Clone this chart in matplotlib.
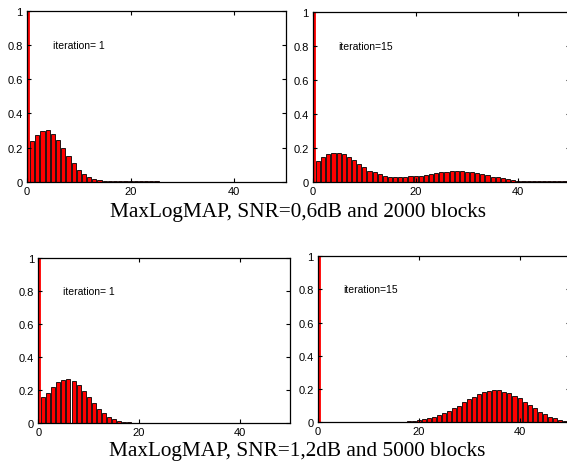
import matplotlib
matplotlib.use('Agg')
import matplotlib.pyplot as plt
import numpy as np

# histogram values, bins 0..50
snr06_it1 = [1.0, 0.237, 0.274, 0.295, 0.301, 0.282, 0.243, 0.198, 0.153, 0.108, 0.072,
             0.045, 0.027, 0.016, 0.010, 0.006, 0.003, 0.002, 0.002, 0.002, 0.002,
             0.002, 0.002, 0.002, 0.002, 0.002]
snr06_it15 = [1.0, 0.124, 0.148, 0.163, 0.171, 0.171, 0.163, 0.148, 0.128, 0.106, 0.085,
              0.065, 0.055, 0.045, 0.037, 0.031, 0.031, 0.031, 0.031, 0.033, 0.035,
              0.037, 0.041, 0.045, 0.051, 0.055, 0.059, 0.061, 0.061, 0.061, 0.059,
              0.055, 0.051, 0.045, 0.039, 0.031, 0.026, 0.020, 0.014, 0.010, 0.006,
              0.002, 0.002, 0.002, 0.002, 0.002, 0.002, 0.002, 0.002, 0.002, 0.002]
snr12_it1 = [1.0, 0.155, 0.184, 0.217, 0.246, 0.260, 0.267, 0.254, 0.229, 0.192, 0.155,
             0.120, 0.087, 0.062, 0.039, 0.025, 0.015, 0.009, 0.006, 0.003, 0.002,
             0.002, 0.002, 0.002, 0.002, 0.002, 0.002, 0.002, 0.002, 0.002]
snr12_it15 = [1.0, 0.002, 0.002, 0.002, 0.002, 0.002, 0.002, 0.002, 0.002, 0.002, 0.002,
              0.002, 0.002, 0.002, 0.002, 0.002, 0.003, 0.004, 0.006, 0.009, 0.014,
              0.020, 0.028, 0.034, 0.046, 0.056, 0.070, 0.086, 0.100, 0.120, 0.140,
              0.154, 0.169, 0.185, 0.191, 0.195, 0.195, 0.185, 0.175, 0.161, 0.145,
              0.125, 0.104, 0.084, 0.064, 0.050, 0.034, 0.026, 0.016, 0.010, 0.006]

labels = ['iteration= 1', 'iteration=15', 'iteration= 1', 'iteration=15']
captions = ['MaxLogMAP, SNR=0,6dB and 2000 blocks', 'MaxLogMAP, SNR=1,2dB and 5000 blocks']
yticks = [0, 0.2, 0.4, 0.6, 0.8, 1]
ytick_labels = ['0', '0.2', '0.4', '0.6', '0.8', '1']
xticks = [0, 20, 40]

fig = plt.figure(figsize=(5.67, 4.64), dpi=100)

rects = [
    [0.0476, 0.606, 0.457, 0.3685],
    [0.552, 0.606, 0.4527, 0.366],
    [0.0675, 0.0862, 0.444, 0.3556],
    [0.5603, 0.0877, 0.445, 0.3578],
]
data = [snr06_it1, snr06_it15, snr12_it1, snr12_it15]

for rect, vals, lab in zip(rects, data, labels):
    ax = fig.add_axes(rect)
    x = np.arange(len(vals))
    edges = ['red'] + ['black'] * (len(vals) - 1)
    ax.bar(x, vals, width=0.8, color='#ff0000', edgecolor=edges, linewidth=0.6)
    ax.set_xlim(0, 50)
    ax.set_ylim(0, 1)
    ax.set_yticks(yticks)
    ax.set_yticklabels(ytick_labels)
    ax.set_xticks(xticks)
    ax.tick_params(direction='in', top=True, right=True, length=3, width=0.8,
                   labelsize=8, pad=3)
    for t in ax.get_xticklabels() + ax.get_yticklabels():
        t.set_family('Liberation Sans')
    for s in ax.spines.values():
        s.set_linewidth(0.9)
    ax.text(5, 0.8, lab, fontsize=7.5, family='Liberation Sans', va='center')

fig.text(0.525, 0.543, captions[0], ha='center', va='center',
         fontsize=15.3, family='Liberation Serif')
fig.text(0.525, 0.026, captions[1], ha='center', va='center',
         fontsize=15.3, family='Liberation Serif')

fig.savefig('out.png', dpi=100)
